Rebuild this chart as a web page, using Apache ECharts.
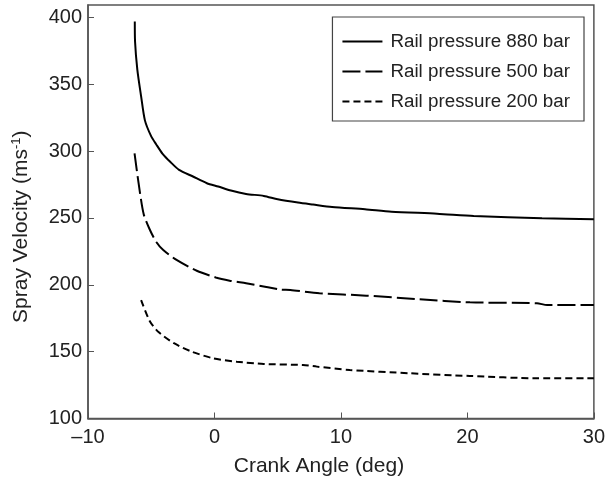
<!DOCTYPE html>
<html>
<head>
<meta charset="utf-8">
<script src="https://cdn.jsdelivr.net/npm/echarts@6/dist/echarts.min.js"></script>
<style>html,body{margin:0;padding:0;background:#fff;}#c{width:608px;height:485px;}</style>
</head>
<body>
<div id="c"></div>
<script>
var seriesNames = ['Rail pressure 880 bar', 'Rail pressure 500 bar', 'Rail pressure 200 bar'];
var xTicks = [-10, 0, 10, 20, 30];
var yTicks = [100, 150, 200, 250, 300, 350, 400];

var rail880 = [[-6.3,397],[-6.28,382],[-6.1,361],[-5.8,341],[-5.5,323],[-5.0,311],[-4.6,305],[-4.1,298],[-3.5,292],[-2.8,286],[-1.7,281],[-0.6,276],[0.3,273.5],[1.3,270.5],[2.5,268],[3.9,266.5],[5.0,264],[6.6,261.5],[7.8,260],[9.3,258.2],[11.9,256.5],[14,254.7],[17.6,253.2],[20.5,251.5],[25.9,249.8],[30,249]];
var rail500 = [[-6.32,298.4],[-6.0,276],[-5.6,253],[-5.1,241],[-4.6,232],[-4.05,226],[-3.0,218.6],[-1.4,210.5],[0.1,205.5],[1.2,203.1],[2.5,201.1],[4.1,198.4],[5.2,196.5],[6.0,196.1],[8.3,193.7],[12.0,191.9],[16.2,189.2],[20.2,186.9],[25.5,186.2],[26.3,184.9],[30,184.9]];
var rail200 = [[-5.8,188.6],[-5.1,172.5],[-4.4,164.5],[-3.2,156.3],[-1.8,150],[-0.1,145],[1.75,142.5],[3.9,140.8],[7.0,140],[8.1,138.8],[10.7,136.3],[15.5,133.8],[20.2,131.8],[25.5,130.1],[30,130.1]];

var chart = echarts.init(document.getElementById('c'), null, {renderer: 'canvas'});
var font = 'Liberation Sans, Arial, Helvetica, sans-serif';
var option = {
  backgroundColor: '#fff',
  animation: false,
  grid: {left: 88, right: 14, top: 5, bottom: 66.5, show: true, borderColor: '#555', borderWidth: 1.5},
  legend: {
    data: seriesNames,
    orient: 'vertical',
    right: 24, top: 17,
    itemWidth: 40, itemHeight: 14, itemGap: 11,
    padding: [15, 14, 10, 9],
    borderColor: '#444', borderWidth: 1.2,
    backgroundColor: '#fff',
    itemStyle: {opacity: 0},
    lineStyle: {width: 2},
    textStyle: {fontFamily: font, fontSize: 18.8, color: '#222', padding: [0, 0, 0, 3]}
  },
  xAxis: {
    type: 'value', min: -10, max: 30, interval: 10,
    name: 'Crank Angle (deg)', nameLocation: 'middle', nameGap: 37,
    nameTextStyle: {fontFamily: font, fontSize: 21, color: '#222', padding: [0, 44, 0, 0]},
    axisLine: {onZero: false, lineStyle: {color: '#555', width: 1.5}},
    axisTick: {inside: true, length: 6, lineStyle: {color: '#555'}},
    axisLabel: {fontFamily: font, fontSize: 20, color: '#222', margin: 9,
      formatter: function (v) { return v < 0 ? '\u2013' + Math.abs(v) : String(v); }},
    splitLine: {show: false}
  },
  yAxis: {
    type: 'value', min: 100, max: 409.3, interval: 50,
    name: 'Spray Velocity (ms{sup|-1})', nameLocation: 'middle', nameGap: 56, nameRotate: 90,
    nameTextStyle: {fontFamily: font, fontSize: 21, color: '#222', padding: [0, 30, 0, 0],
      rich: {sup: {fontFamily: font, fontSize: 13, color: '#222', verticalAlign: 'top', padding: [0, 0, 9, 0]}}},
    axisLine: {onZero: false, lineStyle: {color: '#555', width: 1.5}},
    axisTick: {inside: true, length: 6, lineStyle: {color: '#555'}},
    axisLabel: {fontFamily: font, fontSize: 20, color: '#222', margin: 6, showMaxLabel: false},
    splitLine: {show: false}
  },
  series: [
    {name: seriesNames[0], type: 'line', data: rail880, symbol: 'none', smooth: 0.25,
      lineStyle: {color: '#000', width: 2, type: 'solid'}, itemStyle: {color: '#000'}},
    {name: seriesNames[1], type: 'line', data: rail500, symbol: 'none', smooth: 0.25,
      lineStyle: {color: '#000', width: 2, type: [18, 5]}, itemStyle: {color: '#000'}},
    {name: seriesNames[2], type: 'line', data: rail200, symbol: 'none', smooth: 0.25,
      lineStyle: {color: '#000', width: 2, type: [7, 4]}, itemStyle: {color: '#000'}}
  ]
};
chart.setOption(option);
</script>
</body>
</html>
